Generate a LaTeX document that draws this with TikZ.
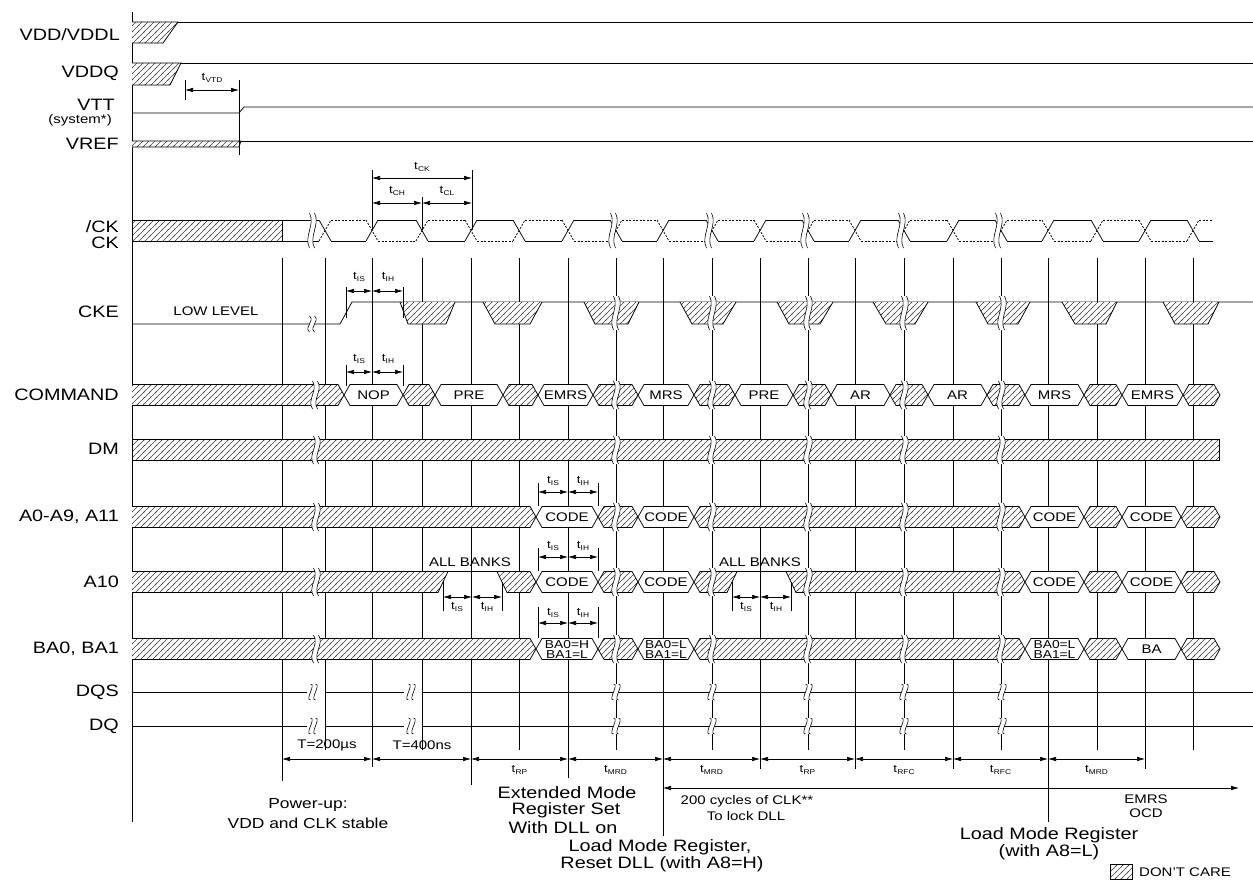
\documentclass[tikz,border=0pt]{standalone}
\usepackage{fontspec}
\setmainfont{Liberation Sans}[FakeStretch=1.2]
\usepackage{graphicx}
\usetikzlibrary{patterns,arrows.meta}

\pgfdeclarepatternformonly{hatch}{\pgfqpoint{-1pt}{-1pt}}{\pgfqpoint{7pt}{7pt}}{\pgfqpoint{6pt}{6pt}}{%
  \pgfsetlinewidth{0.55pt}%
  \pgfpathmoveto{\pgfqpoint{-1pt}{-1pt}}%
  \pgfpathlineto{\pgfqpoint{7pt}{7pt}}%
  \pgfusepath{stroke}}

\newcommand\tsub[1]{t\kern0.2pt\raisebox{-1.6pt}{\fontsize{7}{7}\selectfont #1}}
\newcommand\bhex[4]{%
  \draw[sig,fill=white] (#1,#3) -- (#1+6,#3-10.5) -- (#2-6,#3-10.5) -- (#2,#3) -- (#2-6,#3+10.5) -- (#1+6,#3+10.5) -- cycle;
  \node[med] at ({(#1+#2)/2},#3) {#4};}
\newcommand\bhexB[5]{%
  \draw[sig,fill=white] (#1,#3) -- (#1+6,#3-10.5) -- (#2-6,#3-10.5) -- (#2,#3) -- (#2-6,#3+10.5) -- (#1+6,#3+10.5) -- cycle;
  \node[font=\fontsize{11.5}{9.5}\selectfont, inner sep=0pt, align=center] at ({(#1+#2)/2},#3+0.5) {#4\\#5};}
\newcommand\bhat[3]{%
  \draw[sig,hat] (#1,#3) -- (#1+6,#3-10.5) -- (#2-6,#3-10.5) -- (#2,#3) -- (#2-6,#3+10.5) -- (#1+6,#3+10.5) -- cycle;}
\newcommand\bstart[2]{%
  \draw[sig,hat] (132,#2-10.5) -- (#1-6,#2-10.5) -- (#1,#2) -- (#1-6,#2+10.5) -- (132,#2+10.5);}
\newcommand\brk[3]{%
  \pgfmathsetmacro\brkA{#2+(#3-#2)/3}\pgfmathsetmacro\brkB{#3-(#3-#2)/3}%
  \fill[white] (#1-2.5,#2) .. controls (#1+3.5,\brkA) and (#1-8.5,\brkB) .. (#1-2.5,#3) -- (#1+2.5,#3) .. controls (#1-3.5,\brkB) and (#1+8.5,\brkA) .. (#1+2.5,#2) -- cycle;
  \draw[line width=0.6pt] (#1-2.5,#2) .. controls (#1+3.5,\brkA) and (#1-8.5,\brkB) .. (#1-2.5,#3);
  \draw[line width=0.6pt] (#1+2.5,#2) .. controls (#1+8.5,\brkA) and (#1-3.5,\brkB) .. (#1+2.5,#3);}

\begin{document}
\begin{tikzpicture}[x=1pt,y=-1pt,
  sig/.style={line width=0.75pt, draw=black},
  hat/.style={preaction={fill=white}, pattern=hatch, pattern color=black!75},
  grid/.style={line width=0.6pt},
  lab/.style={font=\fontsize{16.5}{18}\selectfont, inner sep=0pt},
  capt/.style={font=\fontsize{14.5}{16}\selectfont, inner sep=0pt},
  med/.style={font=\fontsize{12.5}{14}\selectfont, inner sep=0pt, align=center},
  tl/.style={font=\fontsize{11}{12}\selectfont, inner sep=0pt},
  dim/.style={line width=0.6pt, {Latex[length=8pt,width=4.5pt]}-{Latex[length=8pt,width=4.5pt]}},
  ck/.style={line width=0.75pt},
  ckn/.style={line width=0.75pt, dash pattern=on 2pt off 1.5pt}]

\fill[white] (0,0) rectangle (1253,884);
\useasboundingbox (0,0) rectangle (1253,884);

% ---------- grid lines ----------
\foreach \g in {282,325,372,422,471,519,568,616,663,712,760,808,855,904,953,1001,1048,1097,1145,1193}
  \draw[grid] (\g,258) -- (\g,750);
\draw[grid] (282,750) -- (282,781);
\draw[grid] (372,750) -- (372,767);
\draw[grid] (471,750) -- (471,785);
\draw[grid] (568,750) -- (568,778);
\draw[grid] (663,750) -- (663,836);
\foreach \g in {760,855,953,1145} \draw[grid] (\g,750) -- (\g,769);
\draw[grid] (1048,750) -- (1048,822);

% ---------- axis ----------
\draw[sig] (132,12) -- (132,822);

% ---------- row labels ----------
\node[lab,anchor=east] (lvdd) at (120,35) {VDD/VDDL};
\node[lab,anchor=east] (lvddq) at (119,73) {VDDQ};
\node[lab,anchor=east] (lvtt) at (115,105) {VTT};
\node[med,anchor=east] (lsys) at (112,120) {(system*)};
\node[lab,anchor=east] (lvref) at (119,144) {VREF};
\node[lab,anchor=east] (lckn) at (119,227) {/CK};
\node[lab,anchor=east] (lck) at (119,243) {CK};
\node[lab,anchor=east] (lcke) at (119,312) {CKE};
\node[lab,anchor=east] (lcmd) at (119,395) {COMMAND};
\node[lab,anchor=east] (ldm) at (119,449) {DM};
\node[lab,anchor=east] (la0) at (119,517) {A0-A9, A11};
\node[lab,anchor=east] (la10) at (119,582) {A10};
\node[lab,anchor=east] (lba) at (119,649) {BA0, BA1};
\node[lab,anchor=east] (ldqs) at (119,692) {DQS};
\node[lab,anchor=east] (ldq) at (119,726) {DQ};

% ---------- power rails ----------
\draw[sig,hat] (132,22) -- (178,22) -- (163,43) -- (132,43);
\draw[sig] (178,22) -- (1253,22);
\draw[sig,hat] (132,63) -- (181,63) -- (170,85) -- (132,85);
\draw[sig] (181,63) -- (1253,63);
\draw[sig] (132,113) -- (239,113) -- (244,107) -- (1253,107);
\draw[sig,hat] (132,141) -- (241,141) -- (239,147) -- (132,147);
\draw[sig] (241,141) -- (1253,141);
\draw[grid] (185,80) -- (185,100);
\draw[grid] (239,80) -- (239,155);
\draw[dim] (185,90) -- (239,90);
\node[tl] (tvtd) at (212,78) {\tsub{VTD}};

% ---------- CK ----------
\draw[sig,hat] (132,220) rectangle (282,241);
\draw[ck] (282,220) -- (319,220) (282,241) -- (319,241);
\foreach \g/\p in {325/1,372/0,422/1,471/0,519/1,568/0,616/1,663/0,712/1,760/0,808/1,855/0,904/1,953/0,1001/1,1048/0,1097/1,1145/0,1193/1}{
  \ifnum\p=1
    \draw[ck] (\g-6,220) -- (\g+6,241); \draw[ckn] (\g-6,241) -- (\g+6,220);
  \else
    \draw[ck] (\g-6,241) -- (\g+6,220); \draw[ckn] (\g-6,220) -- (\g+6,241);
  \fi}
\foreach \a/\b/\p in {325/372/1,372/422/0,422/471/1,471/519/0,519/568/1,568/616/0,616/663/1,663/712/0,712/760/1,760/808/0,808/855/1,855/904/0,904/953/1,953/1001/0,1001/1048/1,1048/1097/0,1097/1145/1,1145/1193/0,1193/1219/1}{
  \ifnum\p=1
    \draw[ck] (\a+6,241) -- (\b-6,241); \draw[ckn] (\a+6,220) -- (\b-6,220);
  \else
    \draw[ck] (\a+6,220) -- (\b-6,220); \draw[ckn] (\a+6,241) -- (\b-6,241);
  \fi}
\foreach \x in {312,613,709,805,901,998} \brk{\x}{213}{248};
\draw[grid] (372,170) -- (372,230);
\draw[grid] (472,170) -- (472,230);
\draw[grid] (422,197) -- (422,230);
\draw[dim] (372,178) -- (472,178);
\draw[dim] (372,203) -- (422,203);
\draw[dim] (422,203) -- (472,203);
\node[tl] (tck) at (422,167) {\tsub{CK}};
\node[tl] (tch) at (397,191) {\tsub{CH}};
\node[tl] (tcl) at (447,191) {\tsub{CL}};

% ---------- CKE ----------
\draw[sig] (132,324) -- (340,324) -- (352,302) -- (1253,302);
\foreach \a/\b/\c/\d in {400/408/446/455, 483/495/530/542, 584/595/628/639, 680/692/723/736, 777/789/820/833, 873/886/915/928, 976/988/1018/1030, 1062/1075/1106/1117, 1163/1175/1208/1219}
  \draw[sig,hat] (\a,302) -- (\b,324) -- (\c,324) -- (\d,302);
\brk{312}{316}{332};
\foreach \x in {616,712,808,904,1002} \brk{\x}{296}{330};
\node[med] (lowlvl) at (216,311) {LOW LEVEL};
\draw[grid] (346,287) -- (346,318);
\draw[grid] (403,287) -- (403,318);
\draw[dim] (346,291) -- (372,291);
\draw[dim] (372,291) -- (403,291);
\node[tl] at (359,277) {\tsub{IS}};
\node[tl] at (388,277) {\tsub{IH}};

% ---------- COMMAND ----------
\bstart{344}{395}
\bhex{344}{403}{395}{NOP}
\bhat{403}{435}{395}
\bhex{435}{503}{395}{PRE}
\bhat{503}{538}{395}
\bhex{538}{593}{395}{EMRS}
\bhat{593}{638}{395}
\bhex{638}{694}{395}{MRS}
\bhat{694}{735}{395}
\bhex{735}{793}{395}{PRE}
\bhat{793}{831}{395}
\bhex{831}{890}{395}{AR}
\bhat{890}{928}{395}
\bhex{928}{987}{395}{AR}
\bhat{987}{1025}{395}
\bhex{1025}{1084}{395}{MRS}
\bhat{1084}{1122}{395}
\bhex{1122}{1183}{395}{EMRS}
\bhat{1183}{1220}{395}
\foreach \x in {315,616,712,808,904,1001} \brk{\x}{381}{409};
\draw[grid] (346,365) -- (346,386);
\draw[grid] (403,365) -- (403,386);
\draw[dim] (346,372) -- (372,372);
\draw[dim] (372,372) -- (403,372);
\node[tl] at (359,359) {\tsub{IS}};
\node[tl] at (388,359) {\tsub{IH}};

% ---------- DM ----------
\draw[sig,hat] (132,439.5) rectangle (1219,460.5);
\foreach \x in {316,616,712,808,904,1001} \brk{\x}{436}{464};

% ---------- A0-A9, A11 ----------
\bstart{536}{517}
\bhex{536}{598}{517}{CODE}
\bhat{598}{638}{517}
\bhex{638}{694}{517}{CODE}
\bhat{694}{1025}{517}
\bhex{1025}{1084}{517}{CODE}
\bhat{1084}{1122}{517}
\bhex{1122}{1181}{517}{CODE}
\bhat{1181}{1220}{517}
\foreach \x in {316,616,712,808,904,1001} \brk{\x}{503}{531};
\draw[grid] (538,483) -- (538,506);
\draw[grid] (598,483) -- (598,506);
\draw[dim] (538,492) -- (568,492);
\draw[dim] (568,492) -- (598,492);
\node[tl] at (553,481) {\tsub{IS}};
\node[tl] at (583,481) {\tsub{IH}};

% ---------- A10 ----------
\draw[sig,hat] (132,571.5) -- (448,571.5) -- (438,592.5) -- (132,592.5);
\draw[sig] (448,571.5) -- (497,571.5);
\draw[sig,hat] (497,571.5) -- (530,571.5) -- (536,582) -- (530,592.5) -- (507,592.5) -- cycle;
\bhex{536}{598}{582}{CODE}
\bhat{598}{638}{582}
\bhex{638}{694}{582}{CODE}
\draw[sig,hat] (694,582) -- (700,571.5) -- (737,571.5) -- (727,592.5) -- (700,592.5) -- cycle;
\draw[sig] (737,571.5) -- (786,571.5);
\draw[sig,hat] (786,571.5) -- (1019,571.5) -- (1025,582) -- (1019,592.5) -- (796,592.5) -- cycle;
\bhex{1025}{1084}{582}{CODE}
\bhat{1084}{1122}{582}
\bhex{1122}{1181}{582}{CODE}
\bhat{1181}{1220}{582}
\foreach \x in {316,616,712,808,904,1001} \brk{\x}{568}{596};
\node[med] (ab1) at (470,562) {ALL BANKS};
\node[med] (ab2) at (760,562) {ALL BANKS};
\draw[grid] (538,548) -- (538,571);
\draw[grid] (598,548) -- (598,571);
\draw[dim] (538,557) -- (568,557);
\draw[dim] (568,557) -- (598,557);
\node[tl] at (553,546) {\tsub{IS}};
\node[tl] at (583,546) {\tsub{IH}};
\foreach \u/\v in {443/502, 732/791}{
  \draw[grid] (\u,582) -- (\u,611);
  \draw[grid] (\v,582) -- (\v,611);
}
\draw[dim] (443,597) -- (472,597);
\draw[dim] (472,597) -- (502,597);
\draw[dim] (732,597) -- (760,597);
\draw[dim] (760,597) -- (791,597);
\node[tl] at (457,607) {\tsub{IS}};
\node[tl] at (487,607) {\tsub{IH}};
\node[tl] at (746,607) {\tsub{IS}};
\node[tl] at (776,607) {\tsub{IH}};

% ---------- BA0, BA1 ----------
\bstart{536}{649}
\bhexB{536}{598}{649}{BA0=H}{BA1=L}
\bhat{598}{638}{649}
\bhexB{638}{694}{649}{BA0=L}{BA1=L}
\bhat{694}{1025}{649}
\bhexB{1025}{1084}{649}{BA0=L}{BA1=L}
\bhat{1084}{1122}{649}
\bhex{1122}{1181}{649}{BA}
\bhat{1181}{1220}{649}
\foreach \x in {316,616,712,808,904,1001} \brk{\x}{635}{663};
\draw[grid] (538,607) -- (538,638);
\draw[grid] (598,607) -- (598,638);
\draw[dim] (538,623) -- (568,623);
\draw[dim] (568,623) -- (598,623);
\node[tl] at (553,613) {\tsub{IS}};
\node[tl] at (583,613) {\tsub{IH}};

% ---------- DQS / DQ ----------
\foreach \y in {692,726}{
  \draw[sig] (132,\y) -- (307,\y);
  \draw[sig] (325,\y) -- (404,\y);
  \draw[sig] (422,\y) -- (1253,\y);
  \brk{313}{\y-8}{\y+8};
  \brk{411}{\y-8}{\y+8};
  \foreach \x in {616,712,808,904,1002} \brk{\x}{\y-8}{\y+8};
}

% ---------- timing arrows ----------
\draw[dim] (282,759) -- (372,759);
\draw[dim] (372,759) -- (471,759);
\node[med] (t200) at (327,745) {T=200µs};
\node[med] (t400) at (422,745) {T=400ns};
\foreach \a/\b/\t in {471/568/RP, 568/663/MRD, 663/760/MRD, 760/855/RP, 855/953/RFC, 953/1048/RFC, 1048/1145/MRD}{
  \draw[dim] (\a,759) -- (\b,759);
  \node[tl] at ({(\a+\b)/2},770) {\tsub{\t}};
}
\draw[dim] (663,788) -- (1239,788);
\node[med] (cyc) at (747,801) {200 cycles of CLK**};
\node[med] (lock) at (746,816) {To lock DLL};
\node[med] (emrs) at (1146,799) {EMRS};
\node[med] (ocd) at (1146,813) {OCD};

% ---------- bottom captions ----------
\node[capt] (pu1) at (308,805) {Power-up:};
\node[capt] (pu2) at (308,823) {VDD and CLK stable};
\node[lab] (em1) at (567,793) {Extended Mode};
\node[lab] (em2) at (566,810) {Register Set};
\node[lab] (em3) at (563,828) {With DLL on};
\node[lab] (lm1) at (660,847) {Load Mode Register,};
\node[lab] (lm2) at (662,864) {Reset DLL (with A8=H)};
\node[lab] (lm3) at (1049,835) {Load Mode Register};
\node[lab] (lm4) at (1049,852) {(with A8=L)};

% ---------- legend ----------
\draw[line width=0.5pt, hat] (1110,864) rectangle (1132,879);
\node[med,anchor=west] (dc) at (1139,872) {DON'T CARE};
\end{tikzpicture}
\end{document}
